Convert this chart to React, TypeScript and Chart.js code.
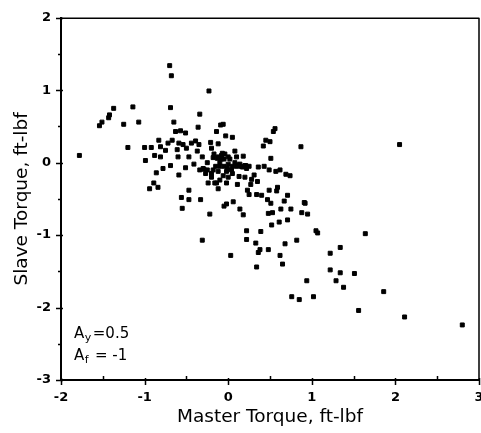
import React, { useEffect, useRef } from "react";
import { Chart, registerables } from "chart.js";

Chart.register(...registerables);

// Master torque (x, ft-lbf) and slave torque (y, ft-lbf) samples
const masterTorque = [
  -1.78, -1.54, -1.51, -1.43, -1.42, -1.37, -1.25, -1.2, -1.14, -1.07,
  -1.0, -0.99, -0.94, -0.92, -0.89, -0.88, -0.86, -0.84, -0.83, -0.81,
  -0.81, -0.78, -0.75, -0.72, -0.7, -0.68, -0.69, -0.69, -0.67, -0.65,
  -0.63, -0.61, -0.59, -0.6, -0.59, -0.57, -0.56, -0.55, -0.54, -0.51,
  -0.5, -0.51, -0.47, -0.47, -0.47, -0.44, -0.41, -0.39, -0.37, -0.36,
  -0.35, -0.34, -0.33, -0.31, -0.31, -0.29, -0.27, -0.25, -0.24, -0.23,
  -0.22, -0.21, -0.2, -0.18, -0.18, -0.16, -0.14, -0.13, -0.12, -0.12,
  -0.1, -0.09, -0.08, -0.06, -0.05, -0.03, -0.02, -0.02, -0.01, 0.03,
  0.05, 0.06, 0.08, 0.1, 0.11, 0.13, 0.14, 0.18, 0.18, 0.2,
  0.21, 0.22, 0.22, 0.23, 0.25, 0.27, 0.28, 0.31, 0.33, 0.34,
  0.34, 0.35, 0.36, 0.36, 0.38, 0.39, 0.4, 0.42, 0.43, 0.45,
  0.47, 0.48, 0.48, 0.49, 0.49, 0.5, 0.51, 0.51, 0.52, 0.53,
  0.54, 0.56, 0.57, 0.58, 0.59, 0.61, 0.62, 0.62, 0.63, 0.65,
  0.67, 0.68, 0.69, 0.71, 0.71, 0.74, 0.75, 0.76, 0.82, 0.85,
  0.87, 0.88, 0.91, 0.92, 0.94, 0.95, 1.02, 1.05, 1.07, 1.22,
  1.22, 1.29, 1.34, 1.34, 1.38, 1.51, 1.56, 1.64, 1.86, 2.05,
  2.11, 2.8,
  // dense cluster near the origin
  -0.12, -0.08, -0.05, -0.1, -0.05, 0.0, 0.05, 0.1, 0.15, 0.2,
  0.25, -0.02, -0.06, -0.1, -0.14, -0.2, -0.25, -0.3, -0.34, 0.0,
  0.05, -0.15, 0.02, 0.08, -0.17, -0.07, 0.12, 0.17, -0.08, -0.04,
  0.0, -0.12, -0.2, 0.04, 0.14, 0.22,
];

const slaveTorque = [
  0.1, 0.51, 0.56, 0.62, 0.66, 0.75, 0.53, 0.21, 0.77, 0.56,
  0.21, 0.03, -0.36, 0.21, -0.28, 0.1, -0.14, -0.34, 0.31, 0.22,
  0.08, -0.08, 0.17, 0.27, 1.34, 1.2, 0.76, -0.04, 0.31, 0.56,
  0.43, 0.18, 0.27, 0.08, -0.17, 0.44, -0.48, -0.63, 0.25, 0.41,
  0.2, -0.07, -0.51, -0.38, 0.08, 0.27, -0.02, 0.3, 0.16, 0.49,
  0.25, 0.67, -0.51, 0.08, -1.07, -0.09, -0.15, 0.0, -0.28, 0.99,
  -0.71, 0.28, 0.2, 0.07, -0.1, -0.28, 0.43, 0.06, 0.26, -0.36,
  -0.05, 0.52, 0.05, 0.53, -0.6, 0.37, -0.57, -0.28, -0.08, -1.28,
  0.35, -0.54, 0.16, 0.08, -0.3, -0.19, -0.64, 0.09, -0.72, -0.2,
  -0.04, -0.94, -1.06, -0.38, -0.44, -0.3, -0.23, -0.17, -1.11, -1.44,
  -0.44, -0.26, -0.06, -1.24, -1.2, -0.95, -0.45, 0.23, -0.05, 0.31,
  -0.51, -1.2, -0.7, -0.38, -0.1, 0.29, -0.56, 0.06, -0.86, -0.69,
  0.43, 0.47, -0.12, -0.39, -0.34, -0.82, -0.1, -1.28, -0.64, -1.4,
  -0.53, -1.12, -0.16, -0.45, -0.79, -0.18, -0.64, -1.85, -1.07, -1.89,
  0.22, -0.69, -0.55, -0.56, -1.63, -0.71, -1.85, -0.94, -0.97, -1.25,
  -1.48, -1.63, -1.17, -1.52, -1.72, -1.53, -2.04, -0.98, -1.78, 0.25,
  -2.13, -2.24,
  // dense cluster near the origin
  0.08, 0.1, 0.05, 0.0, -0.05, -0.02, -0.05, -0.05, -0.05, -0.04,
  -0.05, -0.12, -0.18, -0.24, -0.28, -0.15, -0.1, -0.08, -0.1, -0.2,
  -0.15, -0.05, 0.05, 0.0, 0.12, 0.13, -0.03, -0.06, 0.07, 0.12,
  0.08, -0.12, -0.2, -0.1, -0.02, -0.08,
];

const xLimits = [-2, 3];
const yLimits = [-3, 2];
const xTitle = "Master Torque, ft-lbf";
const yTitle = "Slave Torque, ft-lbf";
const noteLines = [
  { main: "A", sub: "y", rest: "=0.5" },
  { main: "A", sub: "f", rest: " = -1" },
];

const framePlugin = {
  id: "frameAndTicks",
  afterDraw(chart: any) {
    const { ctx, chartArea: a, scales } = chart;
    const xs = scales.x;
    const ys = scales.y;
    ctx.save();
    ctx.strokeStyle = "#000";
    ctx.lineWidth = 1.5;
    // top and right box lines
    ctx.beginPath();
    ctx.moveTo(a.left, a.top + 0.5);
    ctx.lineTo(a.right, a.top + 0.5);
    ctx.moveTo(a.right, a.top);
    ctx.lineTo(a.right, a.bottom);
    ctx.stroke();
    // x ticks: majors outside, minors inside
    ctx.beginPath();
    for (let v = xLimits[0]; v <= xLimits[1] + 1e-9; v += 0.5) {
      const px = Math.round(xs.getPixelForValue(v)) + 0.5;
      const major = Math.abs(v - Math.round(v)) < 1e-9;
      if (major) {
        ctx.moveTo(px, a.bottom - 2);
        ctx.lineTo(px, a.bottom + 5);
      } else {
        ctx.moveTo(px, a.bottom);
        ctx.lineTo(px, a.bottom - 4);
      }
    }
    for (let v = yLimits[0]; v <= yLimits[1] + 1e-9; v += 0.5) {
      const py = Math.round(ys.getPixelForValue(v)) + 0.5;
      const major = Math.abs(v - Math.round(v)) < 1e-9;
      if (major) {
        ctx.moveTo(a.left - 5, py);
        ctx.lineTo(a.left + 2, py);
      } else {
        ctx.moveTo(a.left - 3, py);
        ctx.lineTo(a.left + 1, py);
      }
    }
    ctx.stroke();

    // annotation text
    ctx.fillStyle = "#000";
    ctx.textBaseline = "alphabetic";
    ctx.textAlign = "left";
    const x0 = a.left + 13;
    const baselines = [a.bottom - 42, a.bottom - 20];
    noteLines.forEach((ln, i) => {
      const by = baselines[i];
      let x = x0;
      ctx.font = "15px 'DejaVu Sans'";
      ctx.fillText(ln.main, x, by);
      x += ctx.measureText(ln.main).width + 0.5;
      ctx.font = "11px 'DejaVu Sans'";
      ctx.fillText(ln.sub, x, by + 3);
      x += ctx.measureText(ln.sub).width + 1.5;
      ctx.font = "15px 'DejaVu Sans'";
      ctx.fillText(ln.rest, x, by);
    });
    ctx.restore();
  },
};

export default function App() {
  const canvasRef = useRef<HTMLCanvasElement | null>(null);

  useEffect(() => {
    const canvas = canvasRef.current;
    if (!canvas) return;
    const points = masterTorque.map((x, i) => ({ x, y: slaveTorque[i] }));
    const chart = new Chart(canvas, {
      type: "scatter",
      data: {
        datasets: [
          {
            data: points,
            pointStyle: "rect",
            pointRadius: 2.8,
            pointBorderWidth: 1,
            backgroundColor: "#000",
            borderColor: "#000",
          },
        ],
      },
      plugins: [framePlugin],
      options: {
        animation: false,
        responsive: false,
        devicePixelRatio: 1,
        layout: { padding: { left: 0, right: 21, top: 13, bottom: 0 } },
        plugins: {
          legend: { display: false },
          tooltip: { enabled: false },
        },
        scales: {
          x: {
            type: "linear",
            min: xLimits[0],
            max: xLimits[1],
            afterFit: (s: any) => {
              s.height = 53;
            },
            grid: { display: true, drawOnChartArea: false, drawTicks: false },
            border: { display: true, color: "#000", width: 2 },
            ticks: {
              stepSize: 1,
              padding: 10,
              color: "#000",
              font: { family: "'DejaVu Sans'", size: 13, weight: "bold" },
              callback: (v: any) => String(v),
            },
            title: {
              display: true,
              text: xTitle,
              color: "#000",
              font: { family: "'DejaVu Sans'", size: 18.5 },
              padding: { top: 0, bottom: 4.5 },
            },
          },
          y: {
            type: "linear",
            min: yLimits[0],
            max: yLimits[1],
            afterFit: (s: any) => {
              s.width = 61;
            },
            grid: { display: true, drawOnChartArea: false, drawTicks: false },
            border: { display: true, color: "#000", width: 2 },
            ticks: {
              stepSize: 1,
              padding: 10,
              color: "#000",
              font: { family: "'DejaVu Sans'", size: 13, weight: "bold" },
              callback: (v: any) => String(v),
            },
            title: {
              display: true,
              text: yTitle,
              color: "#000",
              font: { family: "'DejaVu Sans'", size: 18.5 },
              padding: { top: 11, bottom: 0 },
            },
          },
        },
      },
    });
    return () => chart.destroy();
  }, []);

  return (
    <div
      style={{
        position: "fixed",
        left: 0,
        top: 0,
        width: 481,
        height: 433,
        overflow: "hidden",
        background: "#fff",
      }}
    >
      <canvas ref={canvasRef} width={500} height={433} style={{ display: "block" }} />
    </div>
  );
}
